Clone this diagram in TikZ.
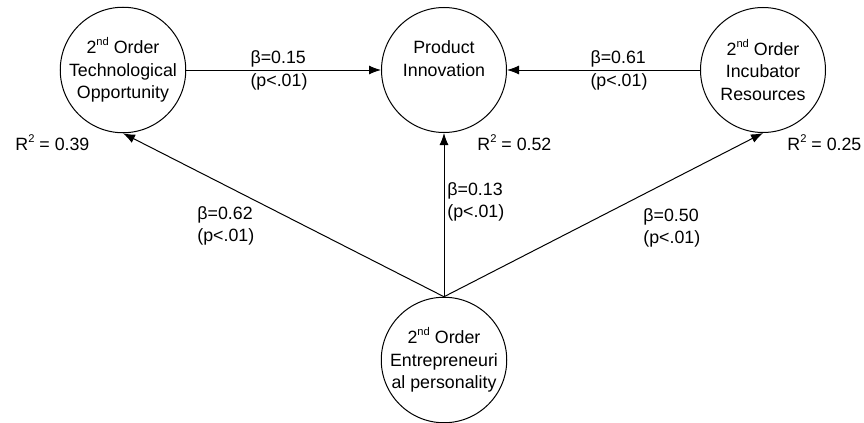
\documentclass[tikz,border=0pt]{standalone}
\usepackage{fontspec}
\setmainfont{Liberation Sans}
\usetikzlibrary{arrows.meta}
\newcommand{\mysup}[1]{\raisebox{0.85ex}{\fontsize{5.6}{6}\selectfont #1}}
\begin{document}
\begin{tikzpicture}[x=0.5pt,y=-0.5pt,
  lat/.style={circle,draw,line width=0.5pt,minimum size=62.5pt,inner sep=0pt,align=center,font=\fontsize{8.9}{11.3}\selectfont},
  lbl/.style={inner sep=0pt,align=left,font=\fontsize{8.9}{11.3}\selectfont},
  conn/.style={draw,line width=0.5pt,-{Latex[length=6pt,width=4.5pt]}}
]
\useasboundingbox (0,0) rectangle (864,423);
\node[lat] (tech) at (123,70) {2\mysup{nd} Order\\Technological\\Opportunity};
\node[lat] (pi) at (444,70) {Product\\Innovation\\~};
\node[lat] (inc) at (763,70) {2\mysup{nd} Order\\Incubator\\Resources};
\node[lat] (ent) at (444,360) {2\mysup{nd} Order\\Entrepreneuri\\al personality};
\draw[conn] (tech.east) -- (pi.west);
\draw[conn] (inc.west) -- (pi.east);
\draw[conn] (ent.north) -- (tech.south);
\draw[conn] (ent.north) -- (pi.south);
\draw[conn] (ent.north) -- (inc.south);
\node[lbl] (b15) at (279,70.5) {β=0.15\\(p<.01)};
\node[lbl] (b61) at (619,70.5) {β=0.61\\(p<.01)};
\node[lbl,anchor=west] (b13) at (447,202) {β=0.13\\(p<.01)};
\node[lbl,anchor=west] (b50) at (643,228) {β=0.50\\(p<.01)};
\node[lbl,anchor=west] (b62) at (197,226) {β=0.62\\(p<.01)};
\node[lbl,anchor=west] (r39) at (15,143) {R\mysup{2} = 0.39};
\node[lbl,anchor=west] (r52) at (477,143) {R\mysup{2} = 0.52};
\node[lbl,anchor=west] (r25) at (787,143) {R\mysup{2} = 0.25};
\end{tikzpicture}
\end{document}
